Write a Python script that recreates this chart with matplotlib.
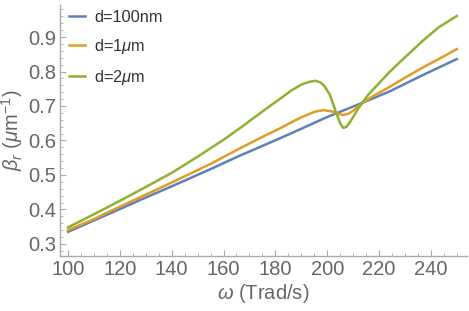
import matplotlib
matplotlib.use("Agg")
import matplotlib.pyplot as plt
from matplotlib.ticker import MultipleLocator

plt.rcParams['font.family'] = ['Liberation Sans', 'DejaVu Sans']
plt.rcParams['mathtext.fontset'] = 'custom'
plt.rcParams['mathtext.rm'] = 'Liberation Sans'
plt.rcParams['mathtext.it'] = 'Liberation Sans:italic'
plt.rcParams['mathtext.bf'] = 'Liberation Sans:bold'

# ---- data ----
omega_blue = [100, 110, 120, 128, 140, 155, 166, 182, 190, 200, 213.5, 224, 237, 250]
beta_blue = [0.335, 0.368, 0.401, 0.428, 0.467, 0.517, 0.555, 0.607, 0.634, 0.668, 0.709, 0.742, 0.790, 0.836]

omega_orange = [100, 110, 120, 128, 140, 155, 166, 176, 182, 186, 190, 195, 198.5, 202, 204,
                206, 208, 210, 213.5, 218, 224, 230, 237, 244, 250]
beta_orange = [0.340, 0.372, 0.408, 0.436, 0.478, 0.532, 0.576, 0.614, 0.636, 0.652, 0.667, 0.683, 0.688,
               0.684, 0.678, 0.674, 0.677, 0.686, 0.709, 0.730, 0.755, 0.782, 0.812, 0.840, 0.865]

omega_green = [100, 110, 120, 128, 140, 150, 160, 166, 175, 182, 186, 190, 193, 195.5, 197.5, 199, 201,
               203.5, 205, 206.2, 207.5, 209, 210.5, 212, 213.5, 216, 220, 224, 228, 232, 237, 243, 250]
beta_green = [0.348, 0.386, 0.425, 0.457, 0.506, 0.553, 0.602, 0.634, 0.684, 0.722, 0.744, 0.762, 0.770,
              0.773, 0.768, 0.757, 0.733, 0.680, 0.650, 0.636, 0.640, 0.656, 0.674, 0.693, 0.709, 0.734,
              0.766, 0.798, 0.827, 0.855, 0.890, 0.928, 0.961]

labels = ['d=100nm', r'd=1$\mu$m', r'd=2$\mu$m']
colors = ['#5E81B5', '#E19C24', '#8FB032']

xticks = [100, 120, 140, 160, 180, 200, 220, 240]
yticks = [0.3, 0.4, 0.5, 0.6, 0.7, 0.8, 0.9]

fig = plt.figure(figsize=(4.69, 3.11), dpi=100)
ax = fig.add_axes([0.128, 0.177, 0.868, 0.807])

ax.plot(omega_blue, beta_blue, color=colors[0], lw=1.8, label=labels[0])
ax.plot(omega_orange, beta_orange, color=colors[1], lw=1.8, label=labels[1])
ax.plot(omega_green, beta_green, color=colors[2], lw=1.8, label=labels[2])

ax.set_xlim(96.9, 254)
ax.set_ylim(0.265, 0.993)
ax.set_xticks(xticks)
ax.set_yticks(yticks)
ax.set_xticklabels([str(t) for t in xticks])
ax.set_yticklabels([f"{t:.1f}" for t in yticks])
ax.xaxis.set_minor_locator(MultipleLocator(5))
ax.yaxis.set_minor_locator(MultipleLocator(0.02))

gray = '#aaaaaa'
for s in ['top', 'right']:
    ax.spines[s].set_visible(False)
for s in ['left', 'bottom']:
    ax.spines[s].set_color(gray)
    ax.spines[s].set_linewidth(1.0)

ax.tick_params(which='major', direction='in', length=4, width=0.8, color=gray,
               labelsize=14.5, labelcolor='#666666', pad=3)
ax.tick_params(which='minor', direction='in', length=2, width=0.6, color=gray)

ax.set_xlabel(r'$\omega$ (Trad/s)', fontsize=14.5, color='#666666', labelpad=2)
ax.set_ylabel(r'$\beta_r$ ($\mu$m$^{-1}$)', fontsize=14.5, color='#666666', labelpad=2)

leg = ax.legend(loc='upper left', bbox_to_anchor=(-0.005, 1.025), frameon=False, fontsize=11.8,
                handlelength=0.95, handletextpad=0.55, labelspacing=0.72, borderaxespad=0.3)
for t in leg.get_texts():
    t.set_color('#333333')

fig.savefig('out.png', dpi=100)
